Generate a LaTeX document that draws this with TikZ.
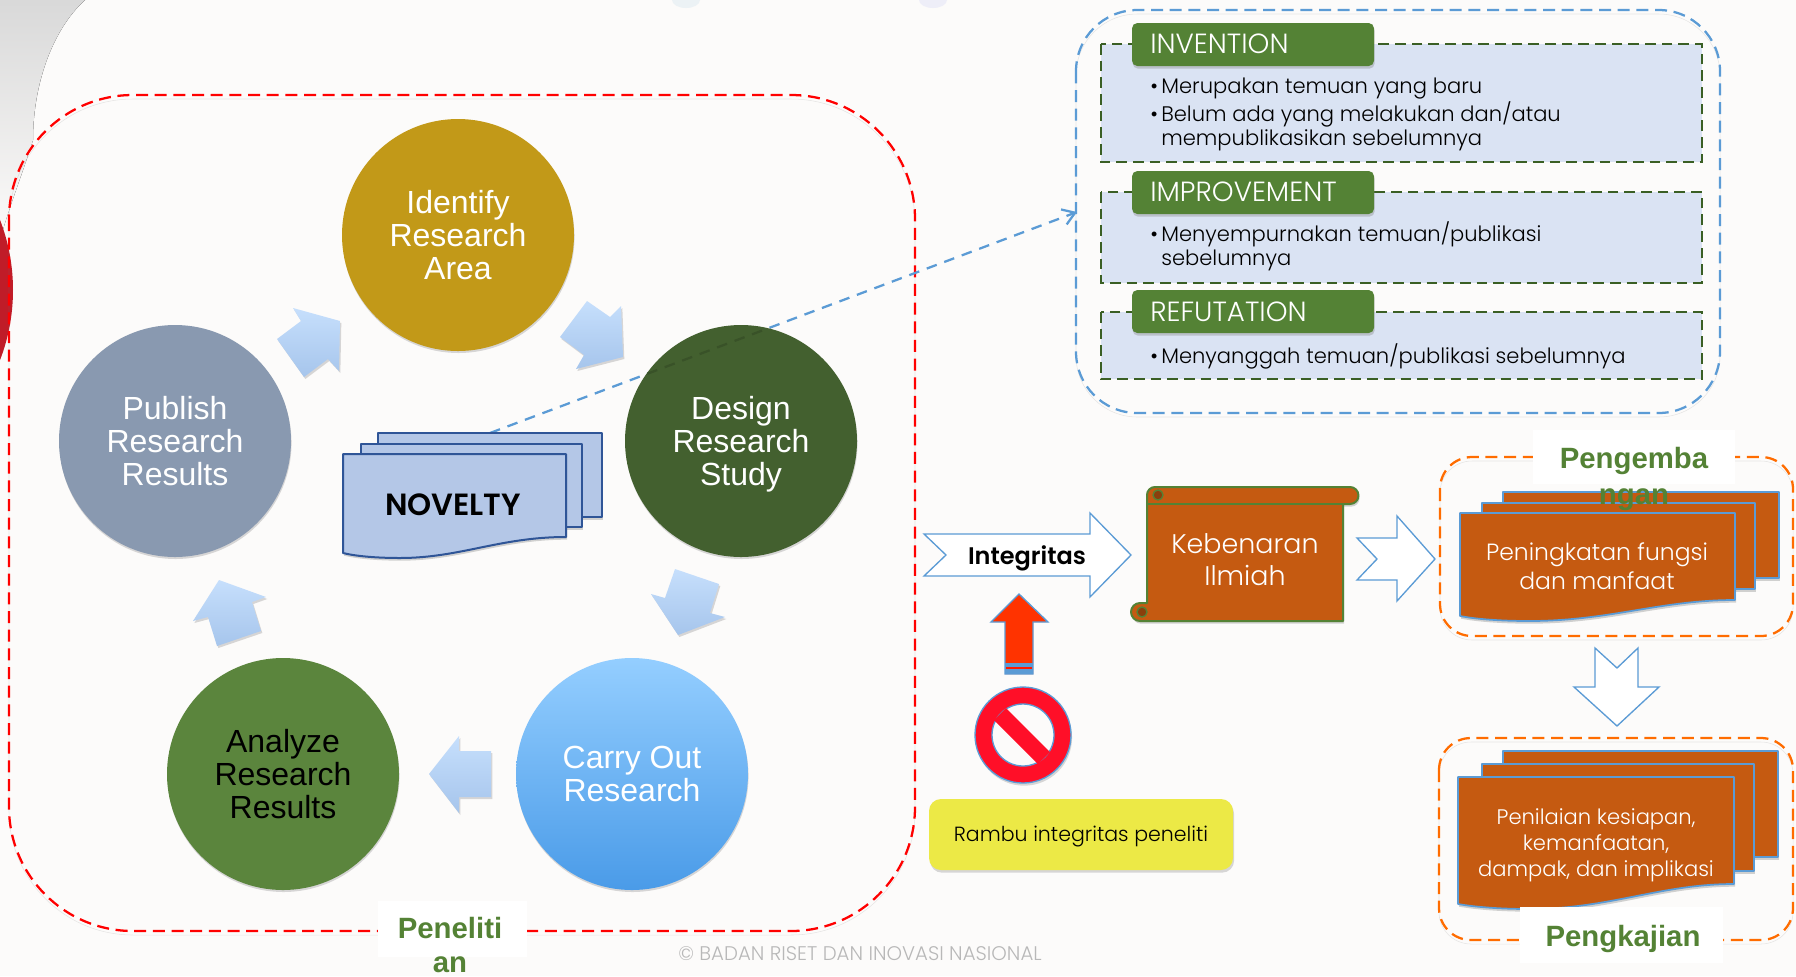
\documentclass[tikz,border=0pt]{standalone}
\usepackage{fontspec}
\setmainfont{Liberation Sans}
\newfontfamily\gothic{Poppins Light}
\newfontfamily\gothicbold{Poppins SemiBold}
\usetikzlibrary{arrows.meta,shadows}
\definecolor{pagebg}{HTML}{FCFBFA}
\definecolor{leafgreen}{HTML}{548235}
\definecolor{rust}{HTML}{C55A11}
\definecolor{skyline}{HTML}{5B9BD5}
\definecolor{panelblue}{HTML}{DAE3F3}
\definecolor{panelgreen}{HTML}{3A5F24}
\definecolor{novelblue}{HTML}{B4C7E7}
\definecolor{novelline}{HTML}{2F5597}
\definecolor{chevrontop}{HTML}{C6DFFC}
\definecolor{chevronlow}{HTML}{A6C5EC}
\definecolor{designgreen}{HTML}{43602F}
\tikzset{
  stepcircle/.style={circle,minimum size=174pt,inner sep=0pt,align=center,text=white,font=\fontsize{24}{25}\selectfont,drop shadow={shadow xshift=.4pt,shadow yshift=-1.5pt,opacity=.3}},
  flowarrow/.style={top color=chevrontop,bottom color=chevronlow,draw=none,drop shadow={shadow xshift=1pt,shadow yshift=-1.5pt,opacity=.3}},
  framedash/.style={draw=#1,line width=1.7pt,dash pattern=on 9pt off 5pt,rounded corners=93pt,preaction={draw=gray,opacity=.18,transform canvas={yshift=-3pt}}},
  paneldash/.style={fill=panelblue,draw=panelgreen,line width=1.5pt,dash pattern=on 8pt off 4.5pt},
  tabbox/.style={fill=leafgreen,rounded corners=4pt,drop shadow={shadow xshift=.5pt,shadow yshift=-2pt,opacity=.35}},
  tabtext/.style={anchor=west,inner sep=0pt,text=white,font=\gothic\fontsize{20.8}{24}\selectfont},
  bullettext/.style={anchor=west,inner sep=0pt,align=left,font=\gothic\fontsize{15.8}{18}\selectfont},
  novelpage/.style={fill=novelblue,draw=novelline,line width=1.5pt,line join=round,drop shadow={shadow xshift=.8pt,shadow yshift=-2pt,opacity=.35}},
  rustpage/.style={fill=rust,draw=skyline,line width=1.3pt,line join=round,drop shadow={shadow xshift=.8pt,shadow yshift=-2pt,opacity=.35}},
  openarrow/.style={fill=white,draw=skyline,line width=1pt,line join=miter},
  pagetext/.style={inner sep=0pt,align=center,text=white},
  grouplabel/.style={inner sep=0pt,align=center,text=leafgreen,font=\bfseries\fontsize{22}{26}\selectfont}
}
\newcommand{\bulletgap}{\hspace{2.5pt}}
\begin{document}
\begin{tikzpicture}[x=0.75pt,y=0.75pt,yscale=-1,xscale=1]
      \useasboundingbox (0,0) rectangle (1796,976);
      \fill [pagebg] (0,0) rectangle (1796,976);
      \fill [top color=black!15,bottom color=pagebg] (0,0) -- (85,0) .. controls (52,30) and (33,85) .. (33,140) .. controls (22,175) and (8,210) .. (0,240) -- cycle;
      \begin{scope}
        \clip (0,0) rectangle (1796,976);
        \fill [color={rgb, 255:red, 192; green, 28; blue, 40 }] (-182,290) circle (195);
        \fill [color={rgb, 255:red, 236; green, 242; blue, 245 }] (686,0) ellipse (14 and 8);
        \fill [color={rgb, 255:red, 238; green, 238; blue, 248 }] (933,0) ellipse (14 and 8);
      \end{scope}

      \draw [framedash=red] (9,95) rectangle (915,931);
      \draw [framedash=skyline,rounded corners=46pt] (1076,10) rectangle (1720,413);

      \coordinate (noveltytop) at (490,433);
      \coordinate (boxentry) at (1077,212);
      \draw [skyline,line width=1.7pt,dash pattern=on 8pt off 6pt,-{Straight Barb[length=9pt,width=12pt]}] (noveltytop) -- (boxentry);

      \node (identify) [stepcircle,fill={rgb, 255:red, 194; green, 153; blue, 24 }] at (458,235) {Identify\\Research\\Area};
      \node (design) [stepcircle,fill=designgreen] at (741,441) {Design\\Research\\\smash{Study}};
      \node (carry) [stepcircle,top color={rgb, 255:red, 148; green, 206; blue, 255 },bottom color={rgb, 255:red, 74; green, 155; blue, 232 }] at (632,774) {Carry Out\\Research};
      \node (analyze) [stepcircle,fill={rgb, 255:red, 91; green, 133; blue, 61 },text=black] at (283,774) {Analyze\\Research\\Results};
      \node (publish) [stepcircle,fill={rgb, 255:red, 137; green, 153; blue, 176 }] at (175,441) {Publish\\Research\\Results};
      \begin{scope}
        \clip (741,441) circle (116);
        \draw [designgreen!85!black,line width=1.7pt,dash pattern=on 8pt off 6pt] (noveltytop) -- (boxentry);
      \end{scope}

      \draw [flowarrow] (293,308) -- (340,321) -- (339,371) -- (328,359) -- (304,377) -- (277,339) -- (301,321) -- cycle;
      \draw [flowarrow] (587,301) -- (610,317) -- (621,306) -- (623,357) -- (576,369) -- (584,355) -- (560,337) -- cycle;
      \draw [flowarrow] (675,569) -- (719,584) -- (710,613) -- (725,617) -- (678,635) -- (651,594) -- (665,598) -- cycle;
      \draw [flowarrow] (459,736) -- (459,751) -- (491,751) -- (491,797) -- (459,797) -- (459,813) -- (429,774) -- cycle;
      \draw [flowarrow] (219,580) -- (266,597) -- (252,602) -- (261,631) -- (217,646) -- (208,617) -- (193,621) -- cycle;

      \draw [novelpage] (378,433) rectangle (602,517);
      \draw [novelpage] (361,444) rectangle (582,527);
      \draw [novelpage] (343,454) -- (566,454) -- (566,537) .. controls (500,537) and (460,558) .. (400,558) .. controls (375,558) and (355,556) .. (343,553) -- cycle;
      \node (novelty) [inner sep=0pt,font=\gothicbold\fontsize{23}{26}\selectfont] at (453,505) {NOVELTY};

      \fill [white] (378,901) rectangle (527,957);
      \node (penelitian) [grouplabel] at (450,945) {Peneliti\\an};

      \draw [paneldash] (1101,44) rectangle (1702,162);
      \draw [paneldash] (1101,192) rectangle (1702,283);
      \draw [paneldash] (1101,312) rectangle (1702,379);
      \fill [tabbox] (1132,23) rectangle (1374,66);
      \fill [tabbox] (1132,171) rectangle (1374,214);
      \fill [tabbox] (1132,290) rectangle (1374,333);
      \node (invention) [tabtext] at (1150,44) {INVENTION};
      \node (improvement) [tabtext] at (1150,192) {IMPROVEMENT};
      \node (refutation) [tabtext] at (1150,312) {REFUTATION};
      \node (inventa) [bullettext] at (1150,89) {•\bulletgap Merupakan temuan yang baru};
      \node (inventb) [bullettext] at (1150,126) {•\bulletgap Belum ada yang melakukan dan/atau\\\hphantom{•}\bulletgap mempublikasikan sebelumnya};
      \node (improvea) [bullettext] at (1150,246) {•\bulletgap Menyempurnakan temuan/publikasi\\\hphantom{•}\bulletgap sebelumnya};
      \node (refutea) [bullettext] at (1150,356) {•\bulletgap Menyanggah temuan/publikasi sebelumnya};

      \draw [openarrow] (924,534) -- (1090,534) -- (1090,513) -- (1131,555) -- (1090,597) -- (1090,576) -- (924,576) -- (946,555) -- cycle;
      \node (integritas) [inner sep=0pt,font=\gothicbold\fontsize{18}{22}\selectfont] at (1027,558) {Integritas};

      \draw [fill=rust,draw=leafgreen,line width=1.5pt,line join=round,drop shadow={shadow xshift=.8pt,shadow yshift=-2pt,opacity=.35}] (1155,487) -- (1350,487) arc (-90:90:8.5) -- (1343,504) -- (1343,621) -- (1140,621) arc (90:270:9) -- (1147,603) -- (1147,495) arc (180:270:8) -- cycle;
      \draw [leafgreen,line width=1.2pt] (1147,504) -- (1343,504);
      \draw [fill=rust!70!black,draw=leafgreen,line width=1pt] (1158,495) circle (5);
      \draw [fill=rust!70!black,draw=leafgreen,line width=1pt] (1142,612) circle (5);
      \node (kebenaran) [pagetext,font=\gothic\fontsize{20.2}{24}\selectfont] at (1245,560) {Kebenaran\\Ilmiah};

      \draw [openarrow] (1357,538) -- (1397,538) -- (1397,516) -- (1435,559) -- (1397,601) -- (1397,580) -- (1357,580) -- (1377,559) -- cycle;

      \draw [framedash=orange!85!red,rounded corners=24pt] (1440,457) rectangle (1793,636);
      \fill [white] (1533,430) rectangle (1735,484);
      \draw [rustpage] (1503,492) rectangle (1779,578);
      \draw [rustpage] (1482,503) rectangle (1755,589);
      \draw [rustpage] (1460,513) -- (1735,513) -- (1735,600) .. controls (1660,600) and (1610,621) .. (1529,621) .. controls (1500,621) and (1475,619) .. (1460,616) -- cycle;
      \node (peningkatan) [pagetext,font=\gothic\fontsize{17.6}{21.4}\selectfont] at (1597,566) {Peningkatan fungsi\\dan manfaat};
      \node (pengembangan) [grouplabel,font=\bfseries\fontsize{22}{27}\selectfont] at (1634,479) {Pengemba\\ngan};

      \draw [openarrow] (1595,648) -- (1617,668) -- (1638,648) -- (1638,687) -- (1659,687) -- (1617,726) -- (1574,687) -- (1595,687) -- cycle;

      \draw [framedash=orange!85!red,rounded corners=24pt] (1439,738) rectangle (1793,940);
      \draw [rustpage] (1503,751) rectangle (1778,857);
      \draw [rustpage] (1482,764) rectangle (1754,871);
      \draw [rustpage] (1458,777) -- (1734,777) -- (1734,884) .. controls (1660,884) and (1610,909) .. (1529,909) .. controls (1500,909) and (1475,907) .. (1458,904) -- cycle;
      \node (penilaian) [pagetext,font=\gothic\fontsize{15.8}{19.5}\selectfont] at (1596,845) {Penilaian kesiapan,\\kemanfaatan,\\dampak, dan implikasi};
      \fill [white] (1520,907) rectangle (1723,963);
      \node (pengkajian) [grouplabel] at (1623,939) {Pengkajian};

      \draw [fill={rgb, 255:red, 255; green, 51; blue, 0 },draw=skyline,line width=1pt] (1019,594) -- (1048,622) -- (1033,622) -- (1033,674) -- (1005,674) -- (1005,622) -- (991,622) -- cycle;
      \fill [skyline] (1005,663) rectangle (1033,674);
      \fill [red!80!orange] (1006,667) rectangle (1032,668.5);

      \draw [fill={rgb, 255:red, 255; green, 15; blue, 40 },draw=skyline,line width=1pt,drop shadow={shadow xshift=.8pt,shadow yshift=-2pt,opacity=.3}] (1023,735) circle (48);
      \draw [fill=pagebg,draw=skyline,line width=1pt] (1023,735) circle (31);
      \draw [fill={rgb, 255:red, 255; green, 15; blue, 40 },draw=none] (994,720) -- (1006,708) -- (1050,752) -- (1038,764) -- cycle;

      \draw [fill={rgb, 255:red, 236; green, 233; blue, 70 },draw=none,rounded corners=9pt,drop shadow={shadow xshift=.8pt,shadow yshift=-2pt,opacity=.3}] (929,799) rectangle (1233,870);
      \node (rambu) [inner sep=0pt,font=\gothic\fontsize{15.4}{18}\selectfont] at (1081,837) {Rambu integritas peneliti};

      \node (watermark) [inner sep=0pt,text=black!28,font=\gothic\fontsize{14.8}{17}\selectfont] at (860,954) {© BADAN RISET DAN INOVASI NASIONAL};
\end{tikzpicture}
\end{document}
